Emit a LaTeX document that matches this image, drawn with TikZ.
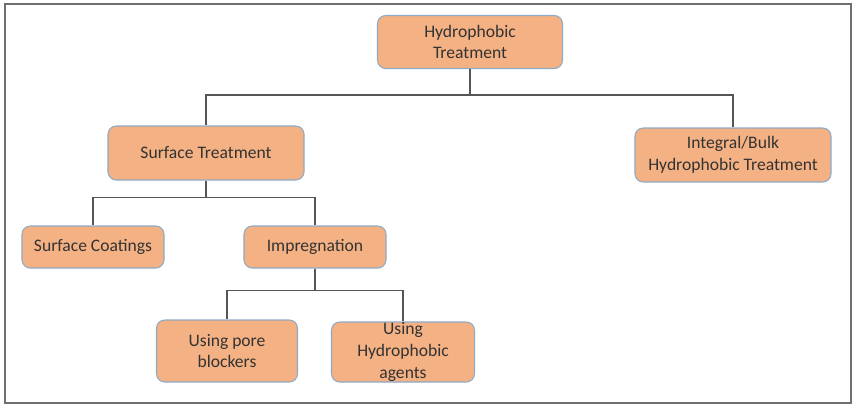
\documentclass[tikz,border=0pt]{standalone}
\usepackage{fontspec}
\setmainfont{Carlito}
\definecolor{boxfill}{HTML}{F4B183}
\definecolor{boxline}{HTML}{8FAAC4}
\definecolor{boxtext}{HTML}{333333}
\definecolor{wire}{HTML}{555555}
\definecolor{frame}{HTML}{6F6F6F}
\begin{document}
\begin{tikzpicture}[x=0.03cm, y=-0.03cm,
                    main node/.style={rectangle, rounded corners=7pt, draw=boxline, line width=0.9pt,
                                      fill=boxfill, text=boxtext, align=center, inner sep=0pt,
                                      font=\fontsize{15}{18.5}\selectfont},
                    link/.style={draw=wire, line width=1.1pt}]

  \useasboundingbox (0,0) rectangle (855,406);
  \draw[frame, line width=1.6pt] (5,4) rectangle (851,403);

  % levels of the tree
  \node[main node, minimum width=5.55cm, minimum height=1.59cm] (top)   at (470,42)  {Hydrophobic\\Treatment};
  \node[main node, minimum width=5.88cm, minimum height=1.62cm] (surf)  at (206,153) {Surface Treatment};
  \node[main node, minimum width=5.88cm, minimum height=1.62cm] (bulk)  at (733,155) {Integral/Bulk\\Hydrophobic Treatment};
  \node[main node, minimum width=4.26cm, minimum height=1.26cm] (coat)  at (93,247)  {Surface Coatings};
  \node[main node, minimum width=4.26cm, minimum height=1.26cm] (impr)  at (315,247) {Impregnation};
  \node[main node, minimum width=4.23cm, minimum height=1.86cm] (pore)  at (227,351) {Using pore\\blockers};
  \node[main node, minimum width=4.29cm, minimum height=1.80cm] (agent) at (403,352) {Using\\Hydrophobic\\agents};

  % elbow connectors
  \draw[link] (top.south)  -- ++(0,26) -| (surf.north);
  \draw[link] (top.south)  -- ++(0,26) -| (bulk.north);
  \draw[link] (surf.south) -- ++(0,17) -| (coat.north);
  \draw[link] (surf.south) -- ++(0,17) -| (impr.north);
  \draw[link] (impr.south) -- ++(0,22) -| (pore.north);
  \draw[link] (impr.south) -- ++(0,22) -| (agent.north);

\end{tikzpicture}
\end{document}
